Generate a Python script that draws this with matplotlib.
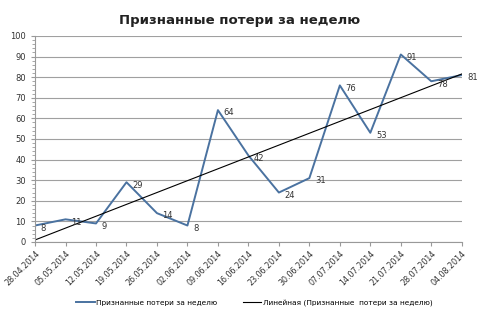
import numpy as np
import matplotlib.pyplot as plt
from matplotlib.ticker import MultipleLocator

dates = ["28.04.2014", "05.05.2014", "12.05.2014", "19.05.2014", "26.05.2014",
         "02.06.2014", "09.06.2014", "16.06.2014", "23.06.2014", "30.06.2014",
         "07.07.2014", "14.07.2014", "21.07.2014", "28.07.2014", "04.08.2014"]
losses = [8, 11, 9, 29, 14, 8, 64, 42, 24, 31, 76, 53, 91, 78, 81]

series_name = "Признанные потери за неделю"
trend_name = "Линейная (Признанные  потери за неделю)"

x = np.arange(len(dates))
y = np.array(losses)

# linear trend like Excel
k, b = np.polyfit(x, y, 1)
trend = k * x + b

fig = plt.figure(figsize=(4.8, 3.18), dpi=100)
ax = fig.add_axes([0.073, 0.239, 0.889, 0.648])

ax.plot(x, y, color="#4a72a0", lw=1.4, label=series_name)
ax.plot(x, trend, color="black", lw=0.8, label=trend_name)

for xi, yi in zip(x, y):
    ax.annotate(str(yi), (xi, yi), xytext=(4, -2), textcoords="offset points",
                fontsize=6, color="#333333", va="center", ha="left")

ax.set_xlim(0, len(dates) - 1)
ax.set_ylim(0, 100)
ax.set_xticks(x)
ax.set_xticklabels(dates, rotation=45, ha="right", rotation_mode="anchor",
                   fontsize=5.8, color="#333333")
ax.yaxis.set_major_locator(MultipleLocator(10))
ax.yaxis.set_minor_locator(MultipleLocator(2))
ax.tick_params(axis="y", labelsize=6, colors="#333333", length=3, color="#999999")
ax.tick_params(axis="y", which="minor", length=2, color="#999999")
ax.tick_params(axis="x", length=3, color="#999999", pad=2)

ax.grid(axis="y", color="#a0a0a0", lw=0.8)
ax.set_axisbelow(True)
for s in ["top", "right"]:
    ax.spines[s].set_visible(False)
for s in ["left", "bottom"]:
    ax.spines[s].set_color("#999999")

fig.text(0.5, 0.935, series_name, ha="center", va="center",
         fontsize=9.5, fontweight="bold", color="#222222")

fig.legend(loc="center", bbox_to_anchor=(0.53, 0.047), ncol=2, frameon=False,
           fontsize=5.3, handlelength=2.5, columnspacing=3.5, handletextpad=0.2)

fig.savefig("out.png", dpi=100)
